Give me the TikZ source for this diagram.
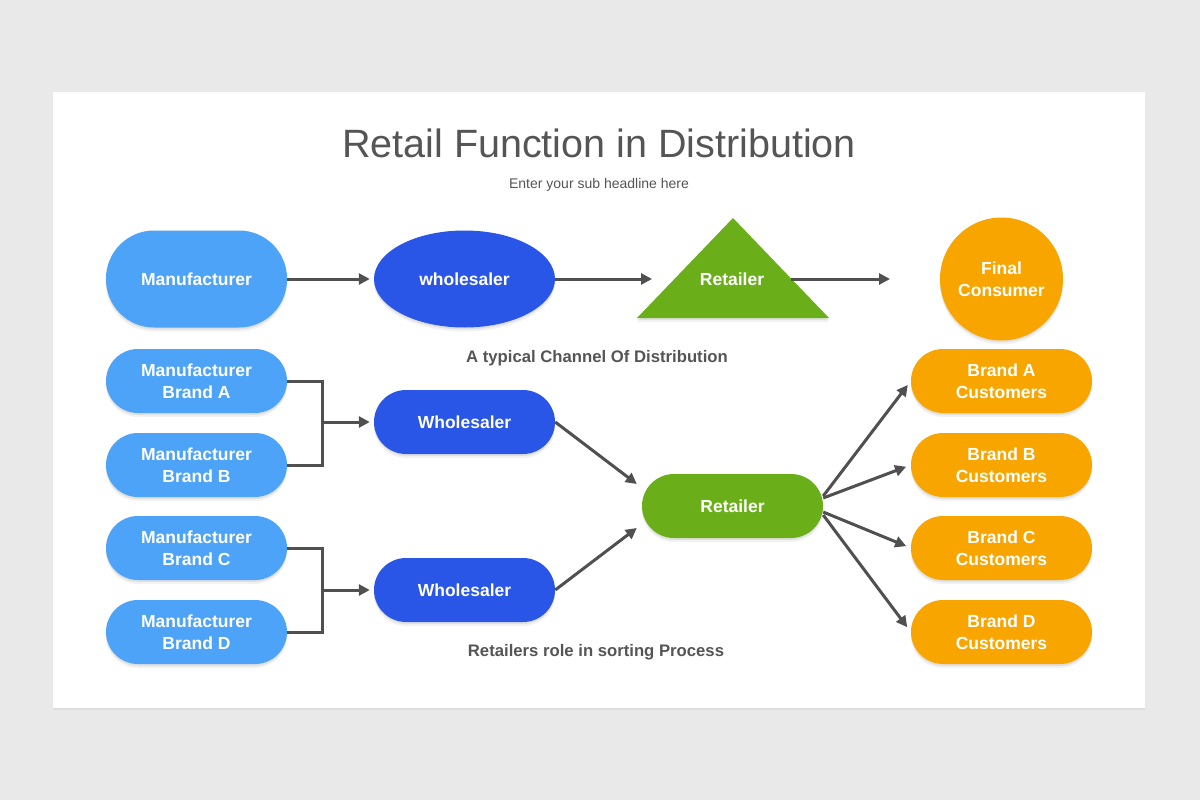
\documentclass[tikz,border=0pt]{standalone}
\usepackage{fontspec}
\setmainfont{Liberation Sans}
\usetikzlibrary{shapes.geometric,arrows.meta,shadows}
\definecolor{bgc}{HTML}{EAE9EA}
\definecolor{lblue}{HTML}{4DA3F7}
\definecolor{dblue}{HTML}{2956E6}
\definecolor{grn}{HTML}{6AAF1A}
\definecolor{org}{HTML}{F8A500}
\definecolor{txtgray}{HTML}{555555}
\definecolor{lngray}{HTML}{505050}
\begin{document}
\begin{tikzpicture}[x=1pt,y=-1pt,
  shad/.style={drop shadow={shadow xshift=0pt,shadow yshift=-4pt,opacity=0.05,fill=black},
               drop shadow={shadow xshift=0pt,shadow yshift=-2pt,opacity=0.07,fill=black}},
  nodetxt/.style={text=white,font=\bfseries\fontsize{17.5}{22}\selectfont,align=center,inner sep=0pt},
  pill/.style={nodetxt,shad,rounded corners=32pt,minimum width=181pt,minimum height=64pt},
  bigpill/.style={nodetxt,shad,rounded corners=48pt,minimum width=181pt,minimum height=97pt},
  oval/.style={nodetxt,shad,ellipse,minimum width=181pt,minimum height=97pt},
  disc/.style={nodetxt,shad,circle,minimum size=123pt},
  conn/.style={draw=lngray,line width=3pt},
  arr/.style={conn,-{Triangle[length=11pt,width=11pt]}},
  lab/.style={text=txtgray,font=\bfseries\fontsize{16.7}{20}\selectfont,inner sep=0pt}
]
\useasboundingbox (0,0) rectangle (1200,800);
\fill[bgc] (0,0) rectangle (1200,800);
\fill[white,drop shadow={shadow xshift=0pt,shadow yshift=-2pt,opacity=0.05,fill=black}] (53,92) rectangle (1145,708);

% titles
\node[anchor=base,text=txtgray,font=\fontsize{39.5}{44}\selectfont,inner sep=0pt] (title) at (599,157) {Retail Function in Distribution};
\node[anchor=base,text=txtgray,font=\fontsize{14}{17}\selectfont,inner sep=0pt] (sub) at (599,188) {Enter your sub headline here};

% row 1
\node[bigpill,fill=lblue] (m0) at (196.5,279) {Manufacturer};
\node[oval,fill=dblue] (w0) at (464.5,279) {wholesaler};
\path[fill=grn,shad] (733,218) -- (829,318) -- (637,318) -- cycle;
\node[nodetxt] (r0) at (732,279) {Retailer};
\node[disc,fill=org] (fc) at (1001.5,279) {Final\\Consumer};
\coordinate (r0in) at (652,279);
\coordinate (r0out) at (791,279);
\coordinate (fcin) at (890,279);
\draw[arr,shorten >=4pt] (m0.east) -- (w0.west);
\draw[arr] (w0.east) -- (r0in);
\draw[arr] (r0out) -- (fcin);

\node[lab] (lab1) at (597,358) {A typical Channel Of Distribution};

% row 2
\node[pill,fill=lblue] (mA) at (196.5,381) {Manufacturer\\Brand A};
\node[pill,fill=lblue] (mB) at (196.5,465) {Manufacturer\\Brand B};
\node[pill,fill=lblue] (mC) at (196.5,548) {Manufacturer\\Brand C};
\node[pill,fill=lblue] (mD) at (196.5,632) {Manufacturer\\Brand D};
\node[pill,fill=dblue] (w1) at (464.5,422) {Wholesaler};
\node[pill,fill=dblue] (w2) at (464.5,590) {Wholesaler};
\node[pill,fill=grn] (r1) at (732.5,506) {Retailer};
\node[pill,fill=org] (cA) at (1001.5,381) {Brand A\\Customers};
\node[pill,fill=org] (cB) at (1001.5,465) {Brand B\\Customers};
\node[pill,fill=org] (cC) at (1001.5,548) {Brand C\\Customers};
\node[pill,fill=org] (cD) at (1001.5,632) {Brand D\\Customers};

\coordinate (j1) at (322,422);
\coordinate (j2) at (322,590);
\draw[conn] (mA.east) -| (j1) |- (mB.east);
\draw[conn] (mC.east) -| (j2) |- (mD.east);
\draw[arr,shorten >=4pt] (j1) -- (w1.west);
\draw[arr,shorten >=4pt] (j2) -- (w2.west);

\draw[arr] (w1.east) -- ([xshift=-5pt,yshift=22pt]r1.west);
\draw[arr] (w2.east) -- ([xshift=-5pt,yshift=-22pt]r1.west);

\draw[arr,shorten >=5pt] ([yshift=10pt]r1.east) -- (cA.west);
\draw[arr,shorten >=5pt] ([yshift=8pt]r1.east) -- (cB.west);
\draw[arr,shorten >=5pt] ([yshift=-6pt]r1.east) -- (cC.west);
\draw[arr,shorten >=6pt] ([yshift=-9pt]r1.east) -- (cD.west);

\node[lab] (lab2) at (596,652) {Retailers role in sorting Process};
\end{tikzpicture}
\end{document}
